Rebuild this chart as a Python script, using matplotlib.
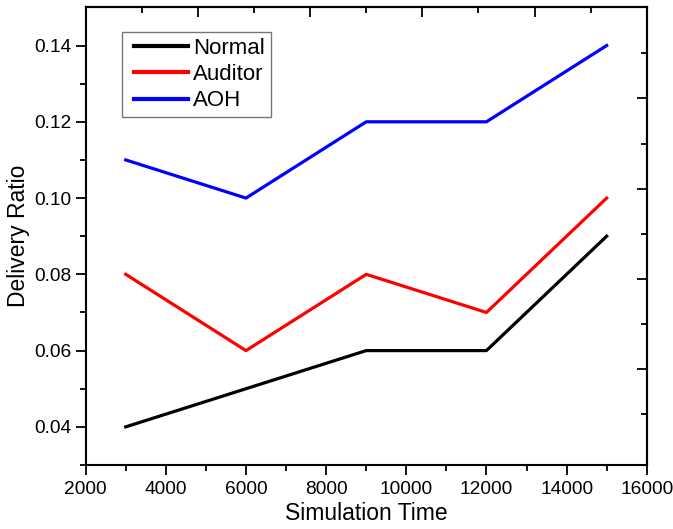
import matplotlib
matplotlib.use("Agg")
import matplotlib.pyplot as plt
from matplotlib.ticker import MultipleLocator, FixedLocator, NullFormatter
from matplotlib.legend_handler import HandlerLine2D
from matplotlib.lines import Line2D

plt.rcParams['font.family'] = ['Liberation Sans', 'DejaVu Sans']

sim_time = [3000, 6000, 9000, 12000, 15000]
normal = [0.04, 0.05, 0.06, 0.06, 0.09]
auditor = [0.08, 0.06, 0.08, 0.07, 0.10]
aoh = [0.11, 0.10, 0.12, 0.12, 0.14]
series_names = ["Normal", "Auditor", "AOH"]

fig = plt.figure(figsize=(6.73, 5.29), dpi=100)
ax = fig.add_axes([0.1273, 0.121, 0.961 - 0.1273, 0.986 - 0.121])

lw = 2.3
ax.plot(sim_time, normal, color='black', lw=lw, label=series_names[0])
ax.plot(sim_time, auditor, color='#ff0000', lw=lw, label=series_names[1])
ax.plot(sim_time, aoh, color='#0000ff', lw=lw, label=series_names[2])

ax.set_xlim(2000, 16000)
ax.set_ylim(0.03, 0.15)
ax.xaxis.set_major_locator(MultipleLocator(2000))
ax.xaxis.set_minor_locator(MultipleLocator(1000))
ax.yaxis.set_major_locator(FixedLocator([0.04, 0.06, 0.08, 0.10, 0.12, 0.14]))
ax.yaxis.set_minor_locator(FixedLocator([0.03, 0.05, 0.07, 0.09, 0.11, 0.13]))
ax.yaxis.set_major_formatter(plt.FuncFormatter(lambda v, p: f"{v:.2f}"))

ax.tick_params(axis='both', which='major', direction='out', length=7, width=1.3,
               labelsize=13.8)
ax.tick_params(axis='x', which='major', pad=4.5)
ax.tick_params(axis='y', which='major', pad=3.5)
ax.tick_params(axis='both', which='minor', direction='out', length=4, width=1.3)
ax.tick_params(top=False, right=False, which='both')
for s in ax.spines.values():
    s.set_linewidth(1.5)

# top auxiliary axis (Origin-style, unlabeled)
sx = ax.secondary_xaxis('top', functions=(lambda x: (x - 2000) / 1400.0,
                                          lambda v: v * 1400.0 + 2000))
sx.xaxis.set_major_locator(FixedLocator([2, 4, 6, 8]))
sx.xaxis.set_minor_locator(FixedLocator([1, 3, 5, 7, 9]))
sx.xaxis.set_major_formatter(NullFormatter())
sx.tick_params(which='major', direction='in', length=7, width=1.3)
sx.tick_params(which='minor', direction='in', length=4, width=1.3)

a_r, span_r = -0.122, 10.14
sy = ax.secondary_yaxis('right', functions=(lambda y: a_r + (y - 0.03) / 0.12 * span_r,
                                            lambda r: 0.03 + (r - a_r) / span_r * 0.12))
sy.yaxis.set_major_locator(FixedLocator([2, 4, 6, 8]))
sy.yaxis.set_minor_locator(FixedLocator([1, 3, 5, 7, 9]))
sy.yaxis.set_major_formatter(NullFormatter())
sy.tick_params(which='major', direction='in', length=7, width=1.3)
sy.tick_params(which='minor', direction='in', length=4, width=1.3)
for s in list(sx.spines.values()) + list(sy.spines.values()):
    s.set_linewidth(1.5)

ax.set_xlabel("Simulation Time", fontsize=16.5, labelpad=3)
ax.set_ylabel("Delivery Ratio", fontsize=16.5, labelpad=2.5)

leg = ax.legend(loc='upper left', bbox_to_anchor=(0.065, 0.946), fontsize=16,
                frameon=True, fancybox=False, edgecolor='#555555',
                handlelength=2.7, handletextpad=0.25, borderpad=0.25,
                labelspacing=0.24, borderaxespad=0,
                handler_map={Line2D: HandlerLine2D(xpad=0.3)})
leg.get_frame().set_linewidth(1.0)
for h in leg.get_lines():
    h.set_linewidth(3)

fig.savefig("out.png", dpi=100)
